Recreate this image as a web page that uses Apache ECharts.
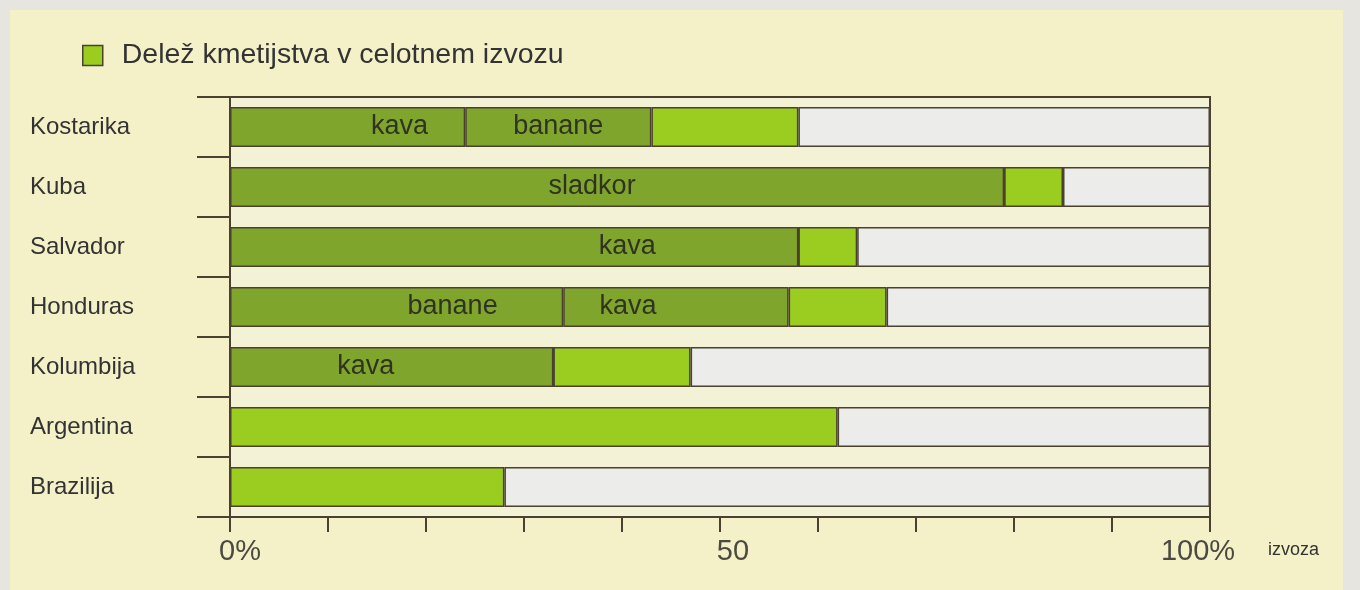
<!DOCTYPE html>
<html lang="sl">
<head>
    <meta charset="UTF-8">
    <title>Delež kmetijstva v izvozu</title>
    <style>
        html, body { margin: 0; padding: 0; background: #e6e5df; }
    </style>
</head>
<body>
<div id="container" style="width:1360px;height:590px"></div>
<script type="text/javascript" src="https://cdn.jsdelivr.net/npm/echarts@6/dist/echarts.min.js"></script>
<script type="text/javascript">
    // podatki (v % celotnega izvoza)
    var countries = ['Kostarika', 'Kuba', 'Salvador', 'Honduras', 'Kolumbija', 'Argentina', 'Brazilija'];
    var crop1Names = ['kava', 'sladkor', 'kava', 'banane', 'kava', '', ''];
    var crop1Values = [24, 79, 58, 34, 33, 0, 0];
    var crop2Names = ['banane', '', '', 'kava', '', '', ''];
    var crop2Values = [19, 0, 0, 23, 0, 0, 0];
    var otherAgri = [15, 6, 6, 10, 14, 62, 28];
    var xTickLabels = {0: '{a|0%}', 50: '{b|50}', 100: '{c|100%}'};
    var legendName = 'Delež kmetijstva v celotnem izvozu';

    // ostanek do 100 %
    var restValues = countries.map(function (c, i) {
        return 100 - crop1Values[i] - crop2Values[i] - otherAgri[i];
    });

    // samo za postavitev napisov v stolpcih
    var shift1 = [[52, 0], [-25, 0], [113, 0], [56, 0], [-26, 0], [0, 0], [0, 0]];
    var shift2 = [[0, 0], [0, 0], [0, 0], [-48, 0], [0, 0], [0, 0], [0, 0]];

    var darkGreen = '#80a52d';
    var lightGreen = '#9bcd21';
    var restColor = '#ececea';
    var lineColor = '#4a4130';
    var font = 'Liberation Sans';

    function cropData(values, names, shifts) {
        return values.map(function (v, i) {
            return {
                value: v,
                label: {
                    show: !!names[i],
                    formatter: names[i],
                    offset: shifts[i]
                }
            };
        });
    }

    var barBase = {
        type: 'bar',
        stack: 'total',
        barWidth: 40,
        itemStyle: { borderColor: lineColor, borderWidth: 1.5 },
        label: {
            position: 'inside',
            fontFamily: font,
            fontSize: 27,
            color: '#2f3320'
        }
    };

    var dom = document.getElementById('container');
    var myChart = echarts.init(dom, null, { renderer: 'canvas' });

    var xLabelFont = { fontFamily: font, fontSize: 29, color: '#4a4a40' };

    var option = {
        backgroundColor: '#e6e5df',
        animation: false,
        graphic: [
            {
                type: 'rect',
                z: -10,
                shape: { x: 10, y: 10, width: 1333, height: 580 },
                style: { fill: '#f4f1c8' }
            },
            {
                type: 'text',
                left: 1268,
                top: 541,
                style: { text: 'izvoza', font: '18px "Liberation Sans"', fill: '#333' }
            }
        ],
        legend: {
            data: [legendName],
            left: 77,
            top: 36,
            icon: 'rect',
            itemWidth: 20,
            itemHeight: 20,
            itemGap: 10,
            itemStyle: { borderColor: lineColor, borderWidth: 1.5 },
            textStyle: { fontFamily: font, fontSize: 28.5, color: '#333', padding: [0, 0, 0, 14] },
            selectedMode: false
        },
        grid: {
            left: 230,
            right: 150,
            top: 97,
            bottom: 73,
            show: true,
            backgroundColor: '#f3f1d6',
            borderColor: lineColor,
            borderWidth: 2
        },
        xAxis: {
            type: 'value',
            min: 0,
            max: 100,
            interval: 10,
            splitLine: { show: false },
            axisLine: { show: true, lineStyle: { color: lineColor, width: 2 } },
            axisTick: { show: true, length: 15, lineStyle: { color: lineColor, width: 2 } },
            axisLabel: {
                margin: 20,
                formatter: function (v) { return xTickLabels[v] || ''; },
                rich: {
                    a: Object.assign({ padding: [0, 0, 0, 20] }, xLabelFont),
                    b: Object.assign({ padding: [0, 0, 0, 26] }, xLabelFont),
                    c: Object.assign({ padding: [0, 24, 0, 0] }, xLabelFont)
                }
            }
        },
        yAxis: {
            type: 'category',
            data: countries,
            inverse: true,
            axisLine: { show: true, lineStyle: { color: lineColor, width: 2 } },
            axisTick: { show: true, length: 33, lineStyle: { color: lineColor, width: 2 } },
            axisLabel: {
                align: 'left',
                margin: 200,
                fontFamily: font,
                fontSize: 24,
                color: '#333'
            }
        },
        series: [
            Object.assign({}, barBase, {
                name: 'crop1',
                itemStyle: Object.assign({}, barBase.itemStyle, { color: darkGreen }),
                data: cropData(crop1Values, crop1Names, shift1)
            }),
            Object.assign({}, barBase, {
                name: 'crop2',
                itemStyle: Object.assign({}, barBase.itemStyle, { color: darkGreen }),
                data: cropData(crop2Values, crop2Names, shift2)
            }),
            Object.assign({}, barBase, {
                name: legendName,
                itemStyle: Object.assign({}, barBase.itemStyle, { color: lightGreen }),
                data: otherAgri
            }),
            Object.assign({}, barBase, {
                name: 'ostalo',
                itemStyle: Object.assign({}, barBase.itemStyle, { color: restColor }),
                data: restValues
            })
        ]
    };

    myChart.setOption(option);
    window.addEventListener('resize', myChart.resize);
</script>
</body>
</html>
